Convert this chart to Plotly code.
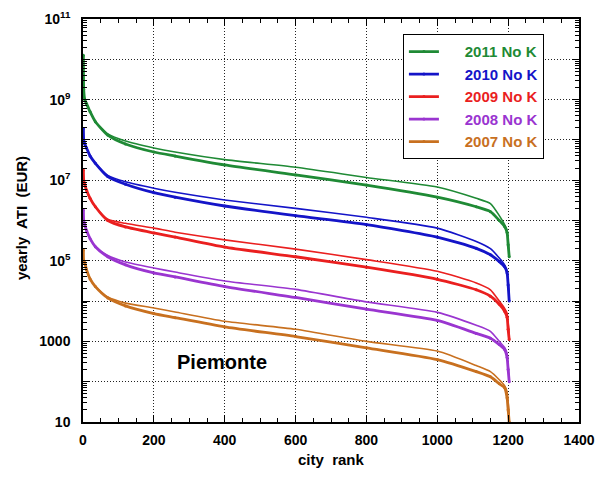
import plotly.graph_objects as go

ranks = [1, 2, 5, 10, 20, 35, 70, 120, 200, 260, 400, 600, 800, 1000, 1110, 1150, 1175, 1190, 1197, 1200, 1203]

green_lower = [1.26e10, 1.78e9, 1.0e9, 7.94e8, 5.01e8, 2.82e8, 1.32e8, 7.94e7, 5.01e7, 3.98e7, 2.40e7, 1.35e7, 7.59e6, 3.80e6, 2.19e6, 1.66e6, 1.0e6, 7.08e5, 5.01e5, 2.51e5, 1.26e5]
green_upper = [1.26e10, 1.78e9, 1.0e9, 7.94e8, 5.01e8, 2.82e8, 1.41e8, 9.33e7, 6.31e7, 5.01e7, 3.24e7, 2.09e7, 1.17e7, 6.76e6, 3.55e6, 2.63e6, 1.32e6, 7.94e5, 5.62e5, 3.16e5, 1.58e5]

blue_lower = [1.91e8, 1.0e8, 7.94e7, 6.31e7, 3.98e7, 2.63e7, 1.23e7, 7.94e6, 4.90e6, 3.80e6, 2.29e6, 1.32e6, 7.94e5, 3.89e5, 2.04e5, 1.41e5, 9.55e4, 7.08e4, 5.01e4, 2.51e4, 1.0e4]
blue_upper = [1.91e8, 1.0e8, 7.94e7, 6.31e7, 3.98e7, 2.63e7, 1.32e7, 9.12e6, 6.31e6, 5.01e6, 3.24e6, 2.0e6, 1.20e6, 6.46e5, 3.02e5, 2.0e5, 1.17e5, 7.94e4, 5.62e4, 3.16e4, 1.58e4]

red_lower = [1.78e7, 1.0e7, 7.94e6, 5.62e6, 3.55e6, 2.19e6, 1.0e6, 6.92e5, 4.90e5, 3.89e5, 2.19e5, 1.26e5, 6.92e4, 3.47e4, 1.91e4, 1.32e4, 8.32e3, 5.62e3, 3.98e3, 2.0e3, 1.12e3]
red_upper = [1.78e7, 1.0e7, 7.94e6, 5.62e6, 3.55e6, 2.19e6, 1.07e6, 8.51e5, 6.46e5, 5.13e5, 3.31e5, 1.95e5, 1.07e5, 5.50e4, 2.82e4, 1.91e4, 1.0e4, 6.61e3, 5.01e3, 2.82e3, 1.58e3]

purple_lower = [1.82e6, 1.0e6, 7.94e5, 5.62e5, 3.55e5, 2.24e5, 1.26e5, 7.94e4, 5.01e4, 3.98e4, 2.29e4, 1.23e4, 6.31e3, 3.31e3, 1.58e3, 1.20e3, 8.32e2, 6.31e2, 3.98e2, 2.0e2, 1.0e2]
purple_upper = [1.82e6, 1.0e6, 7.94e5, 5.62e5, 3.55e5, 2.24e5, 1.35e5, 9.33e4, 6.61e4, 5.25e4, 3.16e4, 1.95e4, 9.55e3, 5.25e3, 2.51e3, 1.78e3, 1.0e3, 7.08e2, 5.01e2, 2.51e2, 1.26e2]

orange_lower = [1.86e5, 1.0e5, 8.91e4, 6.03e4, 3.55e4, 2.29e4, 1.20e4, 7.59e3, 4.90e3, 3.89e3, 2.29e3, 1.32e3, 6.92e2, 3.55e2, 1.78e2, 1.32e2, 89.1, 70.8, 39.8, 20.0, 10.0]
orange_upper = [1.86e5, 1.0e5, 8.91e4, 6.03e4, 3.55e4, 2.29e4, 1.26e4, 8.91e3, 6.76e3, 5.37e3, 3.16e3, 2.0e3, 1.0e3, 5.75e2, 2.51e2, 1.78e2, 1.12e2, 79.4, 56.2, 31.6, 15.8]

series_names = ["2011 No K", "2010 No K", "2009 No K", "2008 No K", "2007 No K"]
series_colors = ["#1f8a35", "#1414c8", "#ea1f1f", "#9a35d0", "#c8701f"]
series_lower = [green_lower, blue_lower, red_lower, purple_lower, orange_lower]
series_upper = [green_upper, blue_upper, red_upper, purple_upper, orange_upper]

y_tickvals = [10, 100, 1000, 1e4, 1e5, 1e6, 1e7, 1e8, 1e9, 1e10, 1e11]
y_ticktext = ["10", "", "1000", "", "10<sup>5</sup>", "", "10<sup>7</sup>", "", "10<sup>9</sup>", "", "10<sup>11</sup>"]
x_tickvals = [0, 200, 400, 600, 800, 1000, 1200, 1400]

FONT = "Liberation Sans, Arial, sans-serif"
PAD = "&nbsp;" * 5

fig = go.Figure()
for name, color, lo, up in zip(series_names, series_colors, series_lower, series_upper):
    fig.add_trace(go.Scatter(
        x=ranks, y=up, mode="lines", line=dict(color=color, width=1.6, shape="spline", smoothing=0.6),
        showlegend=False, hoverinfo="skip"))
    fig.add_trace(go.Scatter(
        x=ranks, y=lo, mode="lines+markers", line=dict(color=color, width=2.8, shape="spline", smoothing=0.6),
        marker=dict(size=3, color=color),
        name=f"{PAD}<b><span style='color:{color}'>{name}</span></b>"))

axis_common = dict(
    showline=True, linecolor="black", linewidth=1.5, mirror="ticks",
    ticks="inside", tickcolor="black", ticklen=7, tickwidth=1.2,
    showgrid=True, gridcolor="#222222", griddash="1px,2px", gridwidth=1,
    zeroline=False, automargin=False,
    tickfont=dict(family=FONT, size=14, color="black", weight="bold"),
)

fig.update_layout(
    width=598, height=479,
    margin=dict(l=83, r=19, t=19, b=57),
    paper_bgcolor="white", plot_bgcolor="white",
    font=dict(family=FONT, color="black"),
    xaxis=dict(
        range=[0, 1400], tickmode="array", tickvals=x_tickvals,
        minor=dict(ticks="inside", ticklen=4, tickcolor="black", dtick=50, showgrid=False),
        ticklabelstandoff=4,
        **axis_common),
    yaxis=dict(
        type="log", range=[1, 11], tickmode="array", tickvals=y_tickvals, ticktext=y_ticktext,
        minor=dict(ticks="inside", ticklen=4, tickcolor="black", dtick="D1", showgrid=False),
        ticklabelstandoff=8,
        **axis_common),
    legend=dict(
        x=0.645, y=0.962, xanchor="left", yanchor="top",
        bgcolor="white", bordercolor="black", borderwidth=1,
        font=dict(family=FONT, size=15, weight="bold"),
        tracegroupgap=0,
    ),
    annotations=[
        dict(x=393, y=2.5, xref="x", yref="y", text="<b>Piemonte</b>", showarrow=False,
             xanchor="center", yanchor="middle",
             font=dict(family=FONT, size=20, color="black")),
        dict(x=0.502, y=-0.092, xref="paper", yref="paper", text="<b>city  rank</b>", showarrow=False,
             xanchor="center", yanchor="middle",
             font=dict(family=FONT, size=15, color="black")),
        dict(x=-0.125, y=0.506, xref="paper", yref="paper", text="<b>yearly  ATI  (EUR)</b>",
             showarrow=False, textangle=-90, xanchor="center", yanchor="middle",
             font=dict(family=FONT, size=15, color="black")),
    ],
)

fig.write_html(
    "out.html",
    config={"displayModeBar": False},
    post_script="document.body.style.margin='0';document.body.style.overflow='hidden';",
)
